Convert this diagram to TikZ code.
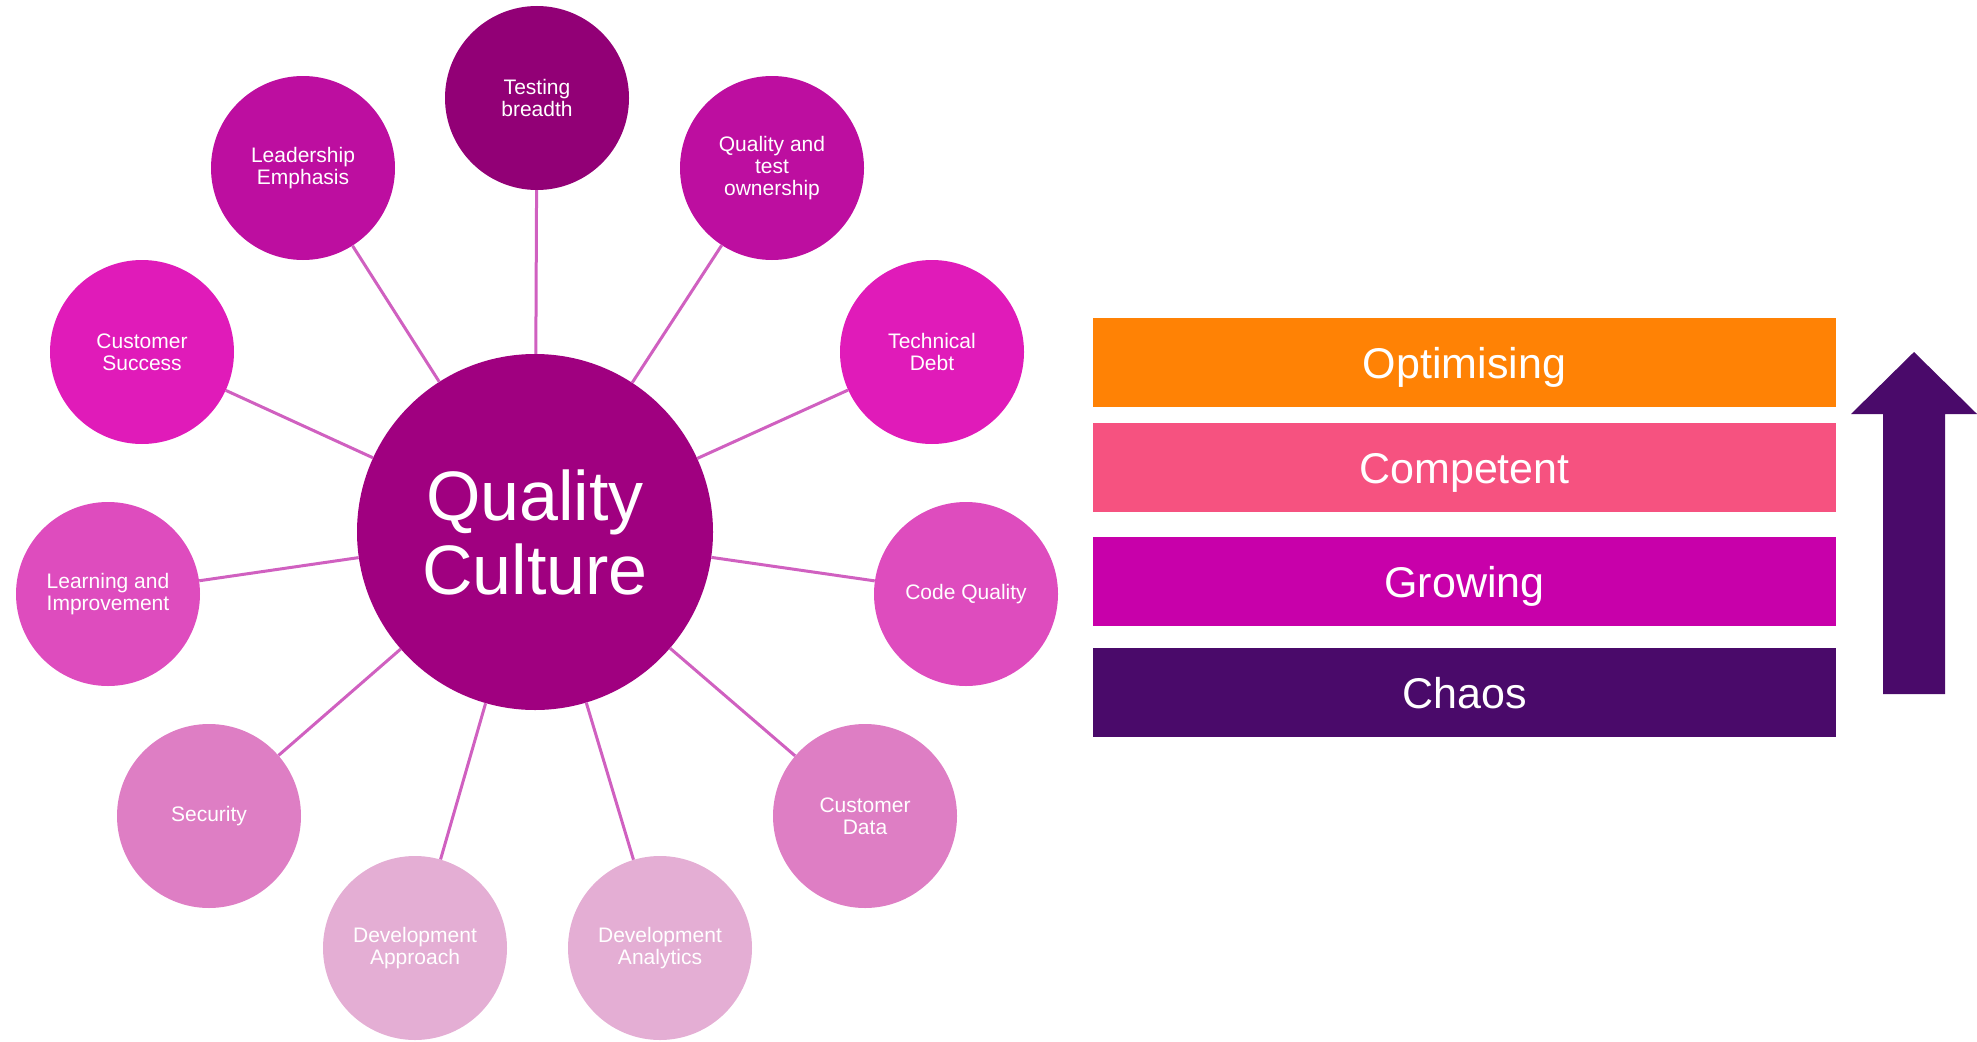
\documentclass[tikz,border=0pt]{standalone}
\usepackage{fontspec}
\setmainfont{Liberation Sans}
\usepackage{tikz}
\usetikzlibrary{
	math,
	% positioning,
	% shapes,
}
\definecolor{hubcol}{RGB}{160,0,128}
\definecolor{ringA}{RGB}{146,0,118}
\definecolor{ringB}{RGB}{189,14,160}
\definecolor{ringC}{RGB}{224,27,185}
\definecolor{ringD}{RGB}{222,76,190}
\definecolor{ringE}{RGB}{222,126,196}
\definecolor{ringF}{RGB}{228,174,212}
\definecolor{spokecol}{RGB}{208,96,192}
\definecolor{optcol}{RGB}{255,130,5}
\definecolor{compcol}{RGB}{246,82,128}
\definecolor{growcol}{RGB}{200,0,170}
\definecolor{chaoscol}{RGB}{74,10,106}

\tikzstyle{bubble} = [circle, minimum size=184pt, inner sep=0pt, text=white, align=center, font=\fontsize{21}{22}\selectfont]
\tikzstyle{hub} = [circle, minimum size=356pt, inner sep=0pt, fill=hubcol, text=white, align=center, font=\fontsize{70}{74}\selectfont]
\tikzstyle{spoke} = [line width=3pt, draw=spokecol]
\tikzstyle{stage} = [minimum width=743pt, minimum height=89pt, inner sep=0pt, text=white, text height=31pt, text depth=0pt, font=\fontsize{43}{50}\selectfont]

\begin{document}
\begin{tikzpicture}[x=1pt, y=-1pt]
	\useasboundingbox (0,0) rectangle (1977,1041);

	% the hub
	\node[hub] (qc) at (535,532) {Quality\\Culture};

	% satellites, darkest on top
	\node[bubble, fill=ringA] (tb) at (537,98) {Testing\\breadth};
	\node[bubble, fill=ringB] (le) at (303,168) {Leadership\\Emphasis};
	\node[bubble, fill=ringB] (qo) at (772,168) {Quality and\\test\\ownership};
	\node[bubble, fill=ringC] (cs) at (142,352) {Customer\\Success};
	\node[bubble, fill=ringC] (td) at (932,352) {Technical\\Debt};
	\node[bubble, fill=ringD] (li) at (108,594) {Learning and\\Improvement};
	\node[bubble, fill=ringD] (cq) at (966,594) {Code Quality};
	\node[bubble, fill=ringE] (se) at (209,816) {Security};
	\node[bubble, fill=ringE] (cd) at (865,816) {Customer\\Data};
	\node[bubble, fill=ringF] (dap) at (415,948) {Development\\Approach};
	\node[bubble, fill=ringF] (dan) at (660,948) {Development\\Analytics};

	% spokes
	\foreach \sat in {tb,le,qo,cs,td,li,cq,se,cd,dap,dan} {
			\draw[spoke] (qc) -- (\sat);
		}

	% maturity stages
	\node[stage, fill=optcol] (opt) at (1464.5,362.5) {Optimising};
	\node[stage, fill=compcol] (comp) at (1464.5,467.5) {Competent};
	\node[stage, fill=growcol] (grow) at (1464.5,581.5) {Growing};
	\node[stage, fill=chaoscol] (chaos) at (1464.5,692.5) {Chaos};

	% upward arrow
	\fill[chaoscol] (1883,694) -- (1883,414) -- (1851,414) -- (1914,352)
	-- (1977,414) -- (1945,414) -- (1945,694) -- cycle;

\end{tikzpicture}
\end{document}
